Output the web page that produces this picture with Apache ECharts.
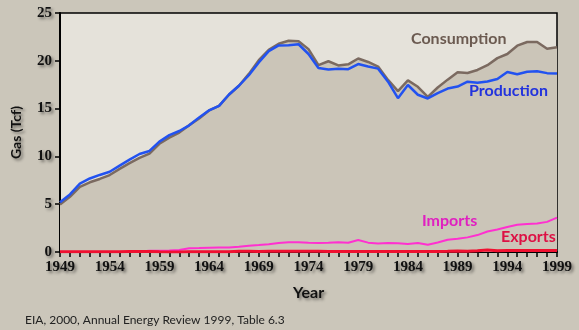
<!DOCTYPE html>
<html><head><meta charset="utf-8">
<script src="https://cdn.jsdelivr.net/npm/echarts@6/dist/echarts.min.js"></script>
<style>html,body{margin:0;padding:0;background:#cbc6ba;}#c{width:579px;height:330px;}</style>
</head><body><div id="c"></div>
<script>
const years = [];
for (let y = 1949; y <= 1999; y++) years.push(String(y));
const consumption = [4.97,5.77,6.81,7.29,7.64,8.05,8.69,9.29,9.85,10.30,11.32,11.97,12.49,13.27,13.97,14.81,15.28,16.45,17.39,18.63,20.06,21.14,21.79,22.10,22.05,21.22,19.54,19.95,19.52,19.63,20.24,19.88,19.40,18.00,16.83,17.95,17.28,16.22,17.21,18.03,18.80,18.72,19.04,19.54,20.28,20.71,21.58,21.97,21.96,21.26,21.42];
const production = [5.20,6.02,7.16,7.69,8.06,8.39,9.03,9.66,10.25,10.57,11.55,12.23,12.66,13.25,14.08,14.82,15.29,16.47,17.39,18.49,19.83,21.01,21.61,21.62,21.73,20.71,19.24,19.10,19.16,19.12,19.66,19.40,19.18,17.82,16.09,17.47,16.45,16.06,16.62,17.10,17.31,17.81,17.70,17.84,18.10,18.82,18.60,18.85,18.90,18.71,18.67];
const imports = [0,0,0.01,0.01,0.01,0.01,0.01,0.01,0.04,0.14,0.13,0.16,0.22,0.40,0.41,0.44,0.46,0.48,0.56,0.65,0.73,0.82,0.93,1.02,1.03,0.96,0.95,0.96,1.01,0.97,1.25,0.98,0.90,0.93,0.92,0.84,0.95,0.75,0.99,1.29,1.38,1.53,1.77,2.14,2.35,2.62,2.84,2.94,2.99,3.15,3.59];
const exports_ = [0.02,0.03,0.03,0.03,0.03,0.03,0.03,0.04,0.04,0.04,0.02,0.01,0.01,0.02,0.02,0.02,0.03,0.02,0.08,0.09,0.05,0.07,0.08,0.08,0.08,0.08,0.07,0.06,0.06,0.05,0.06,0.05,0.06,0.05,0.05,0.05,0.06,0.06,0.05,0.07,0.11,0.09,0.13,0.22,0.14,0.16,0.15,0.15,0.16,0.16,0.16];
const yTicks = [0,5,10,15,20,25];

const chart = echarts.init(document.getElementById('c'), null, {renderer:'canvas'});
const shadow = {textShadowColor:'rgba(0,0,0,0.45)', textShadowBlur:3, textShadowOffsetX:2, textShadowOffsetY:2};
const lbl = (t, x, y, col) => ({type:'text', left:x, top:y, z:100, style:{text:t, fill:col, font:'bold 16px Lato, "Open Sans", sans-serif'}});
chart.setOption({
  backgroundColor:'#cbc6ba',
  animation:false,
  grid:{left:60, right:22, top:13, bottom:78, show:true, backgroundColor:'#e5e2da', borderColor:'#000', borderWidth:1.5},
  xAxis:{type:'category', data:years, boundaryGap:false,
    name:'Year', nameLocation:'middle', nameGap:33,
    nameTextStyle:Object.assign({color:'#111', fontSize:16, fontWeight:'bold', fontFamily:'Lato, "Open Sans", sans-serif'}, shadow),
    axisLine:{lineStyle:{color:'#000', width:2}},
    axisTick:{interval:0, length:5, lineStyle:{color:'#000', width:1.5}},
    axisLabel:Object.assign({interval:4, color:'#111', fontSize:15, fontWeight:'bold', fontFamily:'"Liberation Serif", "DejaVu Serif", serif', margin:8}, shadow),
    splitLine:{show:false}},
  yAxis:{type:'value', min:0, max:25, interval:5,
    name:'Gas (Tcf)', nameLocation:'middle', nameGap:37, nameRotate:90,
    nameTextStyle:Object.assign({color:'#111', fontSize:14, fontWeight:'bold', fontFamily:'Lato, "Open Sans", sans-serif'}, shadow),
    axisLine:{show:true, lineStyle:{color:'#000', width:2}},
    axisTick:{show:true, length:5, lineStyle:{color:'#000', width:1.5}},
    axisLabel:Object.assign({color:'#111', fontSize:15, fontWeight:'bold', fontFamily:'"Liberation Serif", "DejaVu Serif", serif', margin:8}, shadow),
    splitLine:{show:false}},
  series:[
    {name:'Consumption', type:'line', data:consumption, symbol:'none', z:2,
      lineStyle:{color:'#7b6a60', width:2.5}, areaStyle:{color:'#cbc5b8', opacity:1}},
    {name:'Production', type:'line', data:production, symbol:'none', z:3,
      lineStyle:{color:'#2252f0', width:2.5}},
    {name:'Imports', type:'line', data:imports, symbol:'none', z:4,
      lineStyle:{color:'#ff30d0', width:2}},
    {name:'Exports', type:'line', data:exports_, symbol:'none', z:5,
      lineStyle:{color:'#f01030', width:3}}
  ],
  graphic:[
    lbl('Consumption', 411, 31, '#6b5a50'),
    lbl('Production', 469, 83, '#2233dd'),
    lbl('Imports', 422, 213, '#e020c0'),
    lbl('Exports', 501, 229, '#dd1144'),
    {type:'text', left:25, top:314, z:100, style:{text:'EIA, 2000, Annual Energy Review 1999, Table 6.3', fill:'#222', font:'12px Lato, "Open Sans", sans-serif'}}
  ]
});
</script></body></html>
